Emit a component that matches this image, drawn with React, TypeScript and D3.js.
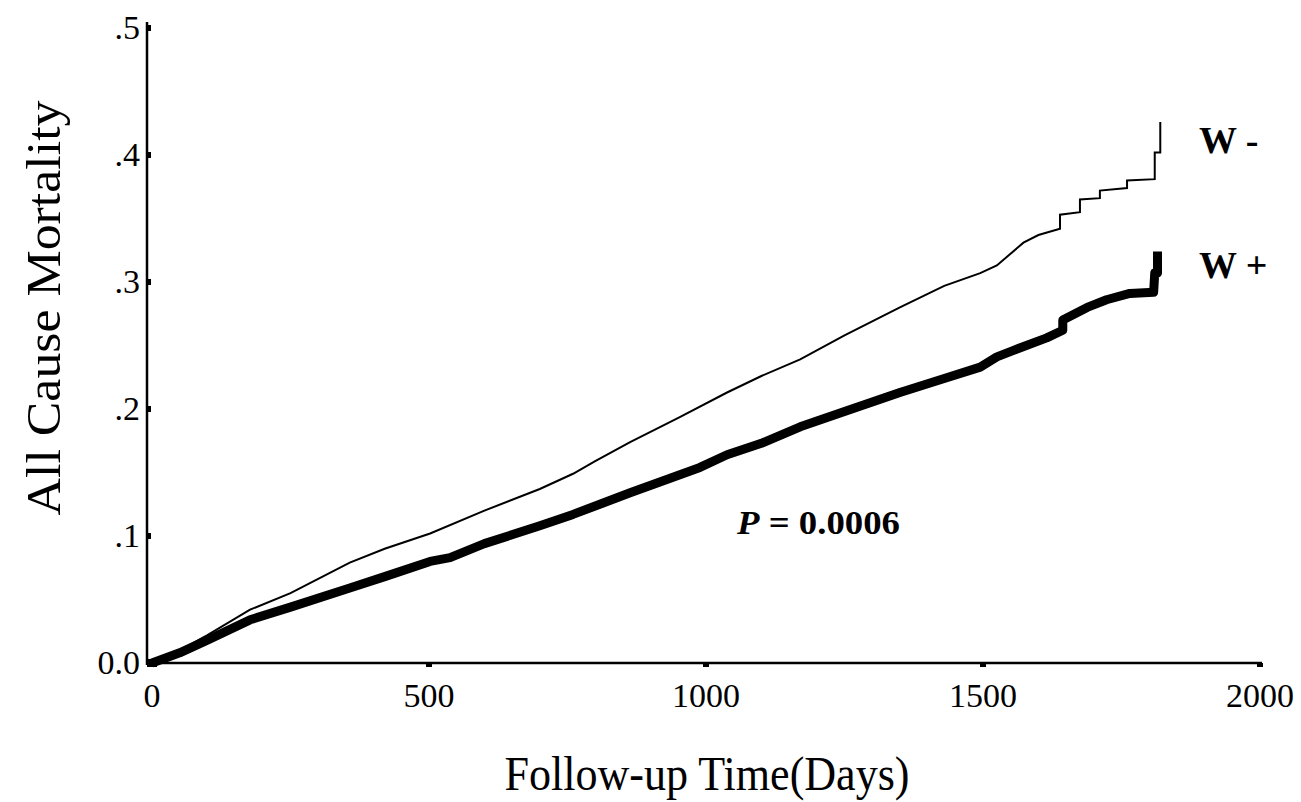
import React from "react";
import * as d3 from "d3";

const wMinusDays = [0, 50, 100, 177, 250, 357, 420, 502, 600, 700, 760, 800, 863, 950, 1038, 1100, 1170, 1250, 1350, 1430, 1495, 1525, 1573, 1600, 1639, 1639, 1675, 1675, 1711, 1711, 1760, 1760, 1810, 1810, 1820, 1820];
const wMinusVals = [0, 0.010, 0.022, 0.042, 0.055, 0.079, 0.090, 0.102, 0.120, 0.137, 0.149, 0.159, 0.174, 0.193, 0.213, 0.226, 0.239, 0.258, 0.280, 0.297, 0.307, 0.313, 0.331, 0.337, 0.342, 0.353, 0.355, 0.365, 0.366, 0.372, 0.374, 0.380, 0.381, 0.402, 0.402, 0.426];

const wPlusDays = [0, 50, 100, 177, 250, 357, 420, 502, 538, 600, 700, 760, 863, 989, 1038, 1100, 1170, 1250, 1350, 1430, 1495, 1525, 1554, 1615, 1644, 1644, 1688, 1723, 1765, 1808, 1810, 1815, 1815];
const wPlusVals = [0, 0.008, 0.018, 0.034, 0.044, 0.059, 0.068, 0.080, 0.083, 0.094, 0.108, 0.117, 0.134, 0.154, 0.164, 0.173, 0.186, 0.198, 0.213, 0.224, 0.233, 0.241, 0.246, 0.256, 0.262, 0.270, 0.280, 0.286, 0.291, 0.292, 0.307, 0.307, 0.324];

const xTicks = [0, 500, 1000, 1500, 2000];
const yTicks = [0, 0.1, 0.2, 0.3, 0.4, 0.5];
const yTickLabels = ["0.0", ".1", ".2", ".3", ".4", ".5"];

export default function App() {
  const x = d3.scaleLinear().domain([0, 2000]).range([152, 1260]);
  const y = d3.scaleLinear().domain([0, 0.5]).range([663, 28]);
  const line = d3
    .line<[number, number]>()
    .x((d) => x(d[0]))
    .y((d) => y(d[1]))
    .curve(d3.curveLinear);
  const minusPts = wMinusDays.map((d, i) => [d, wMinusVals[i]] as [number, number]);
  const plusPts = wPlusDays.map((d, i) => [d, wPlusVals[i]] as [number, number]);
  const font = "'Liberation Serif', 'Times New Roman', serif";
  return (
    <svg
      width={1301}
      height={802}
      style={{ position: "absolute", left: 0, top: 0, background: "#fff" }}
      fontFamily={font}
    >
      {/* axes */}
      <line x1={147} x2={147} y1={y(0.5) - 6} y2={y(0) + 2} stroke="#000" strokeWidth={2.5} />
      <line x1={146} x2={x(2000) + 2} y1={y(0)} y2={y(0)} stroke="#000" strokeWidth={2.5} />
      {yTicks.map((t, i) => (
        <g key={"y" + i}>
          <rect x={147} y={y(t) - 3} width={4} height={6} fill="#000" />
          <text x={140} y={y(t) + 11} fontSize={34} textAnchor="end">
            {yTickLabels[i]}
          </text>
        </g>
      ))}
      {xTicks.map((t, i) => (
        <g key={"x" + i}>
          <rect x={x(t) - 3} y={y(0)} width={6} height={4} fill="#000" />
          <text x={x(t)} y={707} fontSize={34} textAnchor="middle">
            {t}
          </text>
        </g>
      ))}
      {/* curves */}
      <path d={line(plusPts) || ""} fill="none" stroke="#000" strokeWidth={9} strokeLinejoin="round" />
      <rect x={x(0) - 5} y={y(0) - 4} width={10} height={8} fill="#000" />
      <path d={line(minusPts) || ""} fill="none" stroke="#000" strokeWidth={2} />
      {/* labels */}
      <text
        transform="translate(60,308) rotate(-90)"
        fontSize={48}
        textAnchor="middle"
        textLength={415}
        lengthAdjust="spacingAndGlyphs"
      >
        All Cause Mortality
      </text>
      <text x={707} y={790} fontSize={48} textAnchor="middle" textLength={405} lengthAdjust="spacingAndGlyphs">
        Follow-up Time(Days)
      </text>
      <text x={1199} y={153} fontSize={38} fontWeight="bold">
        W -
      </text>
      <text x={1199} y={278} fontSize={38} fontWeight="bold">
        W +
      </text>
      <text x={737} y={534} fontSize={34} fontWeight="bold" textLength={163} lengthAdjust="spacingAndGlyphs">
        <tspan fontStyle="italic">P</tspan> = 0.0006
      </text>
    </svg>
  );
}
